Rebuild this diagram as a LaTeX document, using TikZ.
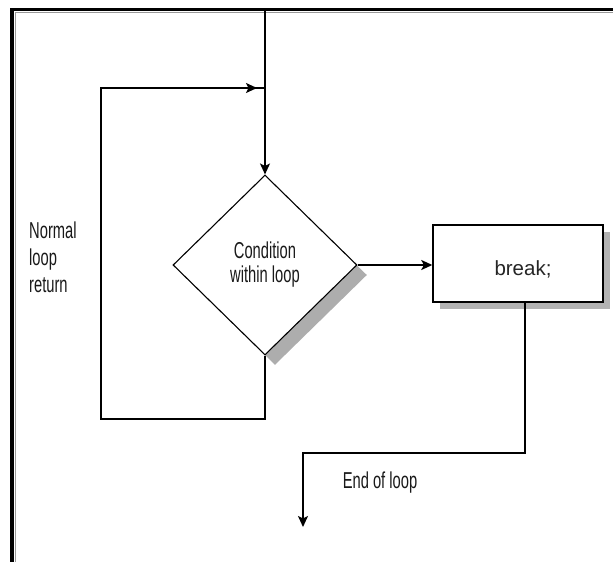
\documentclass[tikz,border=0pt]{standalone}
\usepackage{fontspec}
\setmainfont{Liberation Sans}
\newfontfamily\narrowfont[FakeStretch=0.64]{Liberation Sans}
\usetikzlibrary{shapes.geometric,arrows.meta,shadows,calc}

\begin{document}
\begin{tikzpicture}[x=1pt,y=-1pt,
  wire/.style={line width=1.6pt, black},
  flow/.style={wire, -{Stealth[length=11pt,width=10pt,inset=2.5pt]}},
  narrowtext/.style={font=\narrowfont\fontsize{23}{27}\selectfont, text=black!90, inner sep=0pt},
  decision/.style={diamond, draw, line width=1.1pt, fill=white, minimum width=184pt,
    minimum height=180pt, inner sep=0pt, aspect=1, narrowtext, align=center,
    drop shadow={shadow xshift=10pt, shadow yshift=-10pt, fill=black!32, opacity=1}},
  stepbox/.style={rectangle, draw, line width=1.4pt, fill=white, minimum width=170pt,
    minimum height=77pt, inner sep=0pt,
    drop shadow={shadow xshift=7pt, shadow yshift=-7pt, fill=black!30, opacity=1}},
  boxtext/.style={font=\fontsize{20.5}{24}\selectfont, text=black!85, inner sep=0pt}
]
\useasboundingbox (0,0) rectangle (613,562);

% frame edges (top and left) with a soft inner edge
\draw[black!40, line width=1.5pt] (15.5,562) -- (15.5,12.5) -- (613,12.5);
\draw[black, line width=3.5pt, line join=miter] (12,562) -- (12,9.5) -- (613,9.5);

% nodes
\node[decision] (cond) at (265,265) {\raisebox{-3pt}{Condition}\\within loop};
\node[stepbox] (brk) at (518,263.5) {};
\node[boxtext, anchor=base] (brktext) at (523,275) {break;};

\node[narrowtext, align=left, anchor=base west] (ret) at (29,292) {Normal\\loop\\return};
\node[narrowtext, anchor=base] (endlbl) at (380,488) {End of loop};

% helper points
\coordinate (entry) at (265,11);
\coordinate (merge) at (265,88);
\coordinate (looptop) at (101,88);
\coordinate (loopleft) at (101,419);
\coordinate (exitdrop) at (525,453);
\coordinate (exitturn) at (303,453);
\coordinate (exitend) at (303,527);

% connectors
\draw[flow] (entry) -- (cond.north);
\draw[wire] (cond.south) |- (loopleft) |- (merge);
\draw[flow] (looptop) -- ($(merge)+(-8,0)$);
\draw[flow] (cond.east) -- (cond.east -| brk.west);
\draw[flow] (brk.south -| exitdrop) -- (exitdrop) -- (exitturn) -- (exitend);
\end{tikzpicture}
\end{document}
